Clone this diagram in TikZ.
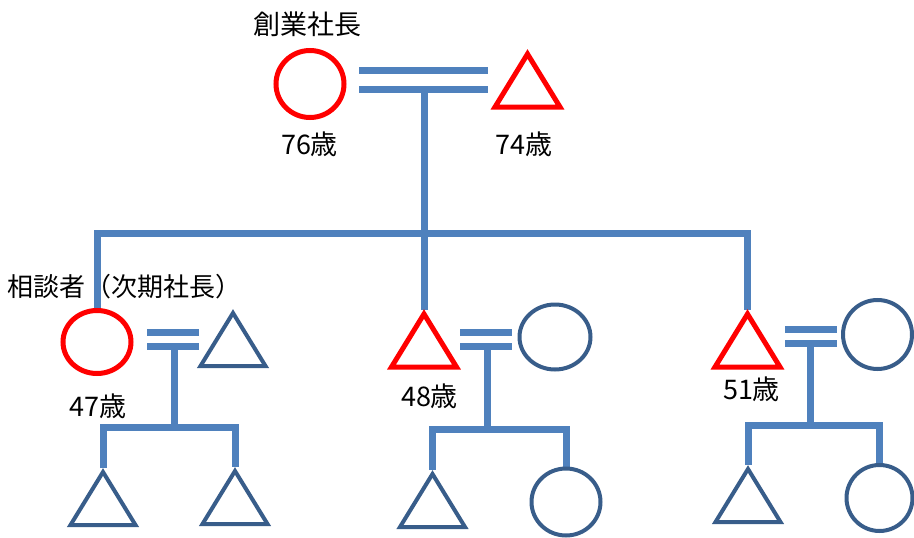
\documentclass[tikz,border=0pt]{standalone}
\usepackage{fontspec}
\setmainfont{Noto Sans CJK JP}
\usetikzlibrary{shapes.geometric}
\pgfdeclarelayer{bg}
\pgfsetlayers{bg,main}
\definecolor{lineblue}{HTML}{4F81BD}
\definecolor{shapeblue}{HTML}{385D8A}
\tikzset{
  redl/.style={draw=red, line width=5pt},
  bluel/.style={draw=shapeblue, line width=4pt},
  conn/.style={draw=lineblue, line width=7pt},
  ell/.style={ellipse, inner sep=0pt},
  lbl/.style={inner sep=0pt, font=\fontsize{27}{31}\selectfont},
  pics/tri/.style={code={
    \draw[#1] (0,0) -- (-32.5,53) -- (32.5,53) -- cycle;
    \coordinate (-top) at (0,-4);
  }}
}
\begin{document}
\begin{tikzpicture}[x=1pt, y=-1pt]
\useasboundingbox (0,0) rectangle (914,538);
% generation 1
\node[ell, redl, minimum width=68pt, minimum height=67pt] (F0) at (310,84) {};
\pic (M0) at (527.5,54) {tri=redl};
\node[lbl] (t0) at (307.5,24) {創業社長};
\node[lbl] (a0) at (309.5,144) {76歳};
\node[lbl] (a1) at (524,144) {74歳};
% generation 2
\node[ell, redl, minimum width=68pt, minimum height=63pt] (F1) at (97,342) {};
\pic (S1) at (233,313) {tri=bluel};
\pic (M1) at (424,314) {tri=redl};
\node[ell, bluel, minimum width=71pt, minimum height=65pt] (S2) at (555,337) {};
\pic (M2) at (747.5,314) {tri=redl};
\node[ell, bluel, minimum width=69pt, minimum height=69pt] (S3) at (877.5,334.5) {};
\node[lbl, font=\fontsize{26}{30}\selectfont] (t1) at (125,287) {相談者（次期社長）};
\node[lbl] (a2) at (98,406) {47歳};
\node[lbl] (a3) at (429.5,396) {48歳};
\node[lbl] (a4) at (751.5,389) {51歳};
% generation 3
\pic (L1) at (103,472) {tri=bluel};
\pic (L2) at (235,471) {tri=bluel};
\pic (C1) at (432.5,474) {tri=bluel};
\node[ell, bluel, minimum width=69pt, minimum height=67pt] (C2) at (566,502) {};
\pic (R1) at (748,469) {tri=bluel};
\node[ell, bluel, minimum width=66pt, minimum height=66pt] (R2) at (879.5,498) {};
% marriage lines
\coordinate (m0a) at (359,70.5); \coordinate (m0b) at (488,70.5);
\coordinate (m0c) at (359,89.5); \coordinate (m0d) at (488,89.5);
\coordinate (m0s) at (424,89.5);
\coordinate (bar) at (424,233.5);
\coordinate (m1a) at (147,332); \coordinate (m1b) at (199,332);
\coordinate (m1c) at (147,346.5); \coordinate (m1d) at (199,346.5);
\coordinate (m1s) at (174,346.5); \coordinate (k1) at (174,427.5);
\coordinate (m2a) at (460,332); \coordinate (m2b) at (512,332);
\coordinate (m2c) at (460,346.5); \coordinate (m2d) at (512,346.5);
\coordinate (m2s) at (487,346.5); \coordinate (k2) at (487,429);
\coordinate (m3a) at (785,329.5); \coordinate (m3b) at (837,329.5);
\coordinate (m3c) at (785,343.5); \coordinate (m3d) at (837,343.5);
\coordinate (m3s) at (810,343.5); \coordinate (k3) at (810,425);
\begin{pgfonlayer}{bg}
\draw[conn] (m0a) -- (m0b);
\draw[conn] (m0c) -- (m0d);
\draw[conn] (m0s) -- (M1-top);
\draw[conn] (F1.north) |- (bar) -| (M2-top);
\draw[conn] (m1a) -- (m1b);
\draw[conn] (m1c) -- (m1d);
\draw[conn] (m1s) -- (k1);
\draw[conn] (L1-top) |- (k1) -| (L2-top);
\draw[conn] (m2a) -- (m2b);
\draw[conn] (m2c) -- (m2d);
\draw[conn] (m2s) -- (k2);
\draw[conn] (C1-top) |- (k2) -| (C2.north);
\draw[conn] (m3a) -- (m3b);
\draw[conn] (m3c) -- (m3d);
\draw[conn] (m3s) -- (k3);
\draw[conn] (R1-top) |- (k3) -| (R2.north);
\end{pgfonlayer}
\end{tikzpicture}
\end{document}
